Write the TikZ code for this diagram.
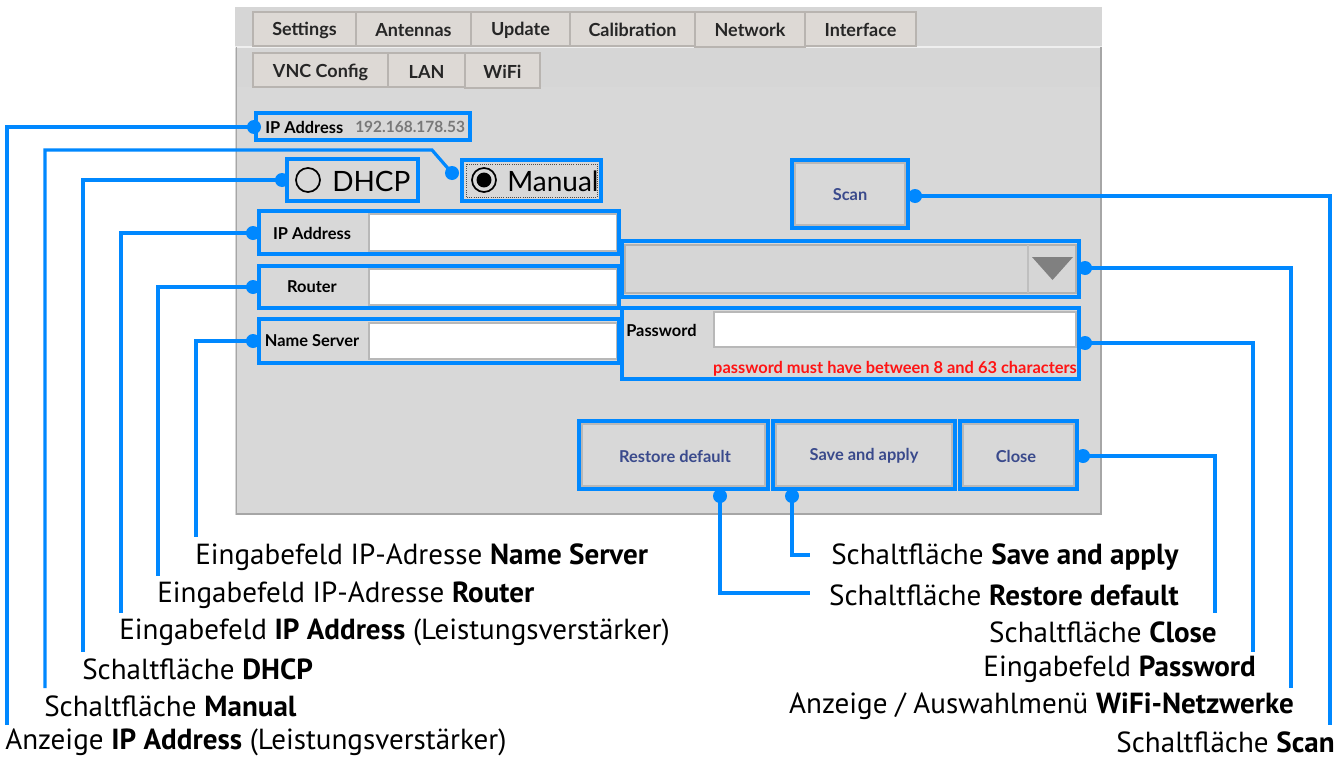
\documentclass[tikz,border=0pt]{standalone}
\usepackage{fontspec}
\setmainfont{PT Sans}
\newfontfamily\uifont{Lato}
\usetikzlibrary{fit}
\definecolor{cblue}{RGB}{0,136,255}
\definecolor{panel}{RGB}{214,214,214}
\definecolor{page}{RGB}{216,216,216}
\definecolor{tabfill}{RGB}{221,217,213}
\definecolor{tabline}{RGB}{184,180,176}
\definecolor{btntext}{RGB}{58,74,140}
\definecolor{ipgray}{RGB}{120,120,120}
\definecolor{pwred}{RGB}{255,20,20}
\begin{document}
\begin{tikzpicture}[x=0.75pt,y=-0.75pt,
 hl/.style={draw=cblue, line width=2.4pt, inner sep=0pt},
 dot/.style={circle, fill=cblue, inner sep=0pt, minimum size=10.5pt},
 co/.style={draw=cblue, line width=2.4pt},
 lbl/.style={inner sep=0pt, font=\fontsize{21.8}{25}\selectfont},
 tabbox/.style={draw=tabline, fill=tabfill, line width=0.8pt},
 tabtxt/.style={inner sep=0pt, font=\uifont\bfseries\fontsize{13.5}{15}\selectfont, text=black!85},
 field/.style={fill=white, draw=black!28, line width=0.8pt},
 btn/.style={fill=page, draw=black!28, line width=0.8pt},
 btntxt/.style={inner sep=0pt, font=\uifont\bfseries\fontsize{12.3}{14}\selectfont, text=btntext},
 uilbl/.style={inner sep=0pt, font=\uifont\bfseries\fontsize{12.3}{14}\selectfont},
 radtxt/.style={inner sep=0pt, font=\uifont\fontsize{21}{24}\selectfont}
]
\useasboundingbox (0,0) rectangle (1342,760);
\fill[white] (0,0) rectangle (1342,760);

% panel and page
\fill[panel] (235,7) rectangle (1102,515);
\draw[white!60!panel, line width=1pt] (235,47) -- (1102,47);
\fill[page] (236,87) rectangle (1101,514);
\draw[black!35, line width=1.2pt] (236.5,47) -- (236.5,514) -- (1101,514) -- (1101,47);

% top tabs
\draw[tabbox] (253,12) rectangle (356,46);
\draw[tabbox] (356,12) rectangle (471,46);
\draw[tabbox] (471,12) rectangle (570,46);
\draw[tabbox] (570,12) rectangle (695,46);
\draw[tabbox] (695,12) rectangle (805,47);
\draw[tabbox] (805,12) rectangle (916,46);
\node[tabtxt] (tSettings) at (304.5,30) {Settings};
\node[tabtxt] (tAntennas) at (413.5,30) {Antennas};
\node[tabtxt] (tUpdate) at (520.5,30) {Update};
\node[tabtxt] (tCalib) at (632.5,30) {Calibration};
\node[tabtxt] (tNetwork) at (750,30) {Network};
\node[tabtxt] (tInterface) at (860.5,30) {Interface};

% second row tabs
\draw[tabbox] (253,53) rectangle (388,87);
\draw[tabbox] (388,53) rectangle (465,87);
\draw[tabbox] (465,53) rectangle (540,88);
\node[tabtxt] (tVNC) at (320.5,72) {VNC Config};
\node[tabtxt] (tLAN) at (426.5,72) {LAN};
\node[tabtxt] (tWiFi) at (502.5,72) {WiFi};

% IP address display
\node[uilbl, anchor=west] (ipdlbl) at (265,127) {IP Address};
\node[inner sep=0pt, anchor=west, text=ipgray, font=\uifont\bfseries\fontsize{11.6}{14}\selectfont] (ipdval) at (355,127) {192.168.178.53};
\node[hl, fit={(256,113) (470,140)}] (ipdisp) {};

% DHCP radio
\draw[black, line width=1.3pt] (308,180) circle (9pt);
\node[radtxt, anchor=west] (dhcptxt) at (332,181) {DHCP};
\node[hl, fit={(287,159) (418,201)}] (dhcp) {};

% Manual radio
\draw[black!70, line width=0.6pt, densely dotted] (466,164) rectangle (597,197);
\draw[black, line width=1.3pt] (484,180) circle (9pt);
\fill[black] (484,180) circle (5.6pt);
\node[radtxt, anchor=west] (mantxt) at (507,181) {Manual};
\node[hl, fit={(462,160) (601,201)}] (manual) {};

% Scan
\draw[btn] (795,163) rectangle (905,225);
\node[btntxt] (scantxt) at (850,195) {Scan};
\node[hl, fit={(792,160) (908,228)}] (scan) {};

% IP fields
\draw[field] (369,214) rectangle (617,251);
\node[uilbl] (ipflbl) at (312,233) {IP Address};
\node[hl, fit={(259,211) (619,254)}] (ipfield) {};
\draw[field] (369,269) rectangle (617,305);
\node[uilbl] (roulbl) at (312,287) {Router};
\node[hl, fit={(259,266) (619,308)}] (router) {};
\draw[field] (369,323) rectangle (617,359);
\node[uilbl] (nslbl) at (312,341) {Name Server};
\node[hl, fit={(259,319) (619,363)}] (nserver) {};

% WiFi combo
\draw[fill=black!16, draw=white!70!black, line width=0.8pt] (625,245) rectangle (1076,293);
\draw[white!75!black, line width=0.8pt] (1028,245) -- (1028,293);
\fill[black!50] (1032,257) -- (1073,257) -- (1052.5,280) -- cycle;
\node[hl, fit={(622,241) (1079,297)}] (wifi) {};

% Password
\draw[field] (714,312) rectangle (1076,347);
\node[uilbl, anchor=west] (pwlbl) at (626,330) {Password};
\node[inner sep=0pt, anchor=east, text=pwred, font=\uifont\bfseries\fontsize{12.3}{14}\selectfont] (pwmsg) at (1077,369) {password must have between 8 and 63 characters};
\node[hl, fit={(622,308) (1079,379)}] (password) {};

% buttons
\draw[btn] (582,424) rectangle (765,486);
\node[btntxt] (resttxt) at (675,456) {Restore default};
\node[hl, fit={(579,421) (768,489)}] (restore) {};
\draw[btn] (776,424) rectangle (952,486);
\node[btntxt] (savetxt) at (864,456) {Save and apply};
\node[hl, fit={(773,421) (955,489)}] (save) {};
\draw[btn] (963,424) rectangle (1074,486);
\node[btntxt] (closetxt) at (1016,456) {Close};
\node[hl, fit={(960,421) (1077,489)}] (close) {};

% callout end coordinates
\coordinate (cIP) at (7,725);
\coordinate (manbend) at (432,150);
\coordinate (cMan) at (45,688);
\coordinate (cDHCP) at (83,652);
\coordinate (cIPf) at (121,613);
\coordinate (cRou) at (158,576);
\coordinate (cNS) at (196,537);
\coordinate (cScan) at (1330,725);
\coordinate (cWifi) at (1291,688);
\coordinate (cPw) at (1253,652);
\coordinate (cClose) at (1215,613);
\coordinate (cRest) at (810,593);
\coordinate (cSave) at (810,555);

% dots
\node[dot] (dIP) at (254,127) {};
\node[dot] (dMan) at (452,173) {};
\node[dot] (dDHCP) at (282,180) {};
\node[dot] (dIPf) at (253,233) {};
\node[dot] (dRou) at (253,287) {};
\node[dot] (dNS) at (253,341) {};
\node[dot] (dScan) at (915,196) {};
\node[dot] (dWifi) at (1085,268) {};
\node[dot] (dPw) at (1085,343) {};
\node[dot] (dClose) at (1083,456) {};
\node[dot] (dRest) at (720,496) {};
\node[dot] (dSave) at (792,496) {};

% connectors
\draw[co] (dIP.center) -| (cIP);
\draw[co] (dMan.center) -- (manbend) -| (cMan);
\draw[co] (dDHCP.center) -| (cDHCP);
\draw[co] (dIPf.center) -| (cIPf);
\draw[co] (dRou.center) -| (cRou);
\draw[co] (dNS.center) -| (cNS);
\draw[co] (dScan.center) -| (cScan);
\draw[co] (dWifi.center) -| (cWifi);
\draw[co] (dPw.center) -| (cPw);
\draw[co] (dClose.center) -| (cClose);
\draw[co] (dRest.center) |- (cRest);
\draw[co] (dSave.center) |- (cSave);

% callout texts
\node[lbl, anchor=west] (lNS) at (195,557) {Eingabefeld IP-Adresse \textbf{Name Server}};
\node[lbl, anchor=west] (lRou) at (157,595) {Eingabefeld IP-Adresse \textbf{Router}};
\node[lbl, anchor=west] (lIPf) at (119,632) {Eingabefeld \textbf{IP Address} (Leistungsverstärker)};
\node[lbl, anchor=west] (lDHCP) at (82,669) {Schaltfläche \textbf{DHCP}};
\node[lbl, anchor=west] (lMan) at (44,706) {Schaltfläche \textbf{Manual}};
\node[lbl, anchor=west] (lIP) at (5,742) {Anzeige \textbf{IP Address} (Leistungsverstärker)};
\node[lbl, anchor=east] (lSave) at (1179,557) {Schaltfläche \textbf{Save and apply}};
\node[lbl, anchor=east] (lRest) at (1179,595) {Schaltfläche \textbf{Restore default}};
\node[lbl, anchor=east] (lClose) at (1217,632) {Schaltfläche \textbf{Close}};
\node[lbl, anchor=east] (lPw) at (1256,669) {Eingabefeld \textbf{Password}};
\node[lbl, anchor=east] (lWifi) at (1294,706) {Anzeige / Auswahlmenü \textbf{WiFi-Netzwerke}};
\node[lbl, anchor=east] (lScan) at (1335,742) {Schaltfläche \textbf{Scan}};
\end{tikzpicture}
\end{document}
